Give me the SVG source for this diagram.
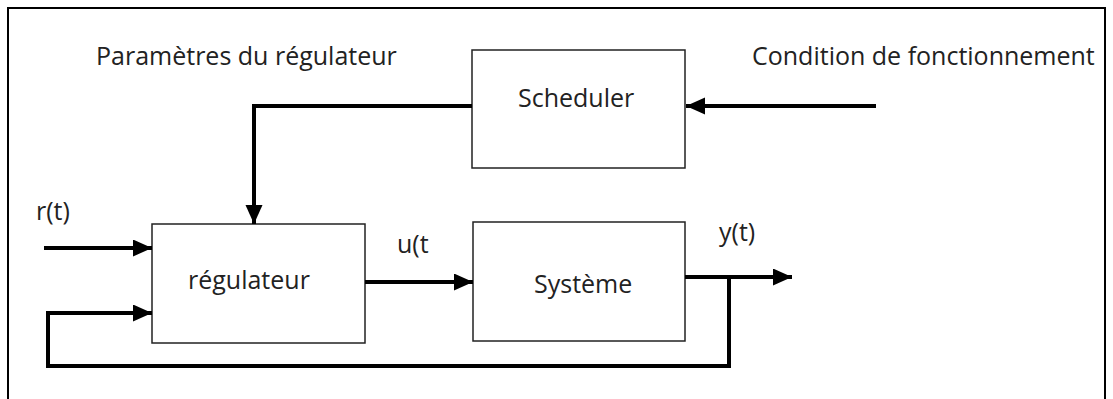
<svg xmlns="http://www.w3.org/2000/svg" width="1113" height="399" viewBox="0 0 1113 399">
<defs>
<style>
.box{fill:#fff;stroke:#222;stroke-width:1.5}
.wire{fill:none;stroke:#000;stroke-width:4;stroke-linejoin:miter}
.t{font-family:"Open Sans","Noto Sans",sans-serif;fill:#222;font-size:25px}
</style>
<marker id="ah" markerUnits="userSpaceOnUse" markerWidth="20" markerHeight="18" refX="19" refY="8.5" orient="auto">
<path d="M0,0 L19,8.5 L0,17 Z" fill="#000"/>
</marker>
</defs>
<rect x="0" y="0" width="1113" height="399" fill="#fff"/>
<rect x="8" y="8" width="1097" height="400" fill="none" stroke="#000" stroke-width="2"/>
<text class="t" x="96" y="65">Paramètres du régulateur</text>
<text class="t" x="752" y="65">Condition de fonctionnement</text>
<g id="scheduler">
<rect class="box" x="472" y="50" width="213" height="118"/>
<text class="t" x="518" y="107">Scheduler</text>
</g>
<g id="regulateur">
<rect class="box" x="152" y="224" width="213" height="119"/>
<text class="t" x="188" y="289">régulateur</text>
</g>
<g id="systeme">
<rect class="box" x="473" y="222" width="212" height="119"/>
<text class="t" x="534" y="293">Système</text>
</g>
<g id="labels">
<text class="t" x="36" y="220">r(t)</text>
<text class="t" x="397" y="253">u(t</text>
<text class="t" x="719" y="241">y(t)</text>
</g>
<g id="connectors">
<path class="wire" d="M472,106 H254 V224" marker-end="url(#ah)"/>
<path class="wire" d="M876,106 H686" marker-end="url(#ah)"/>
<path class="wire" d="M44,248 H152" marker-end="url(#ah)"/>
<path class="wire" d="M365,282 H473" marker-end="url(#ah)"/>
<path class="wire" d="M685,277 H792" marker-end="url(#ah)"/>
<path class="wire" d="M729,277 V366 H48 V313 H152" marker-end="url(#ah)"/>
</g>
</svg>
